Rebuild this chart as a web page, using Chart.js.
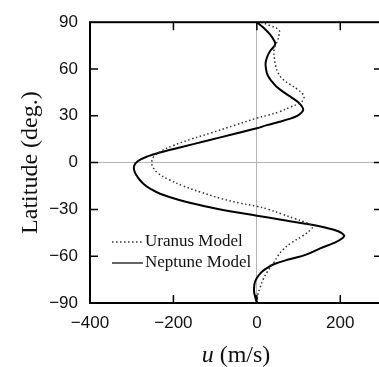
<!DOCTYPE html>
<html>
<head>
<meta charset="utf-8">
<script src="https://cdn.jsdelivr.net/npm/chart.js@4.4.1/dist/chart.umd.min.js"></script>
<style>
  html, body { margin: 0; padding: 0; background: #fff; overflow: hidden; }
  #wrap { width: 390px; height: 367px; }
</style>
</head>
<body>
<div id="wrap"><canvas id="windChart" width="390" height="367"></canvas></div>
<script>
// Zonal wind profiles: u (m/s) against latitude (deg.)
const uranusLat = [90, 88, 85, 82, 78.5, 75, 72, 67, 62, 57, 53.5, 50, 47, 44, 42, 40, 38, 35.5, 32.5, 30.5, 28.5, 24, 19, 15, 11, 7, 3.5, 0,
                   -3, -7, -11, -15, -19, -23, -26, -28, -30, -33, -36, -38, -40, -41.5, -43, -47, -51.5, -56, -60, -64, -70, -75, -80, -85, -90];
const uranusU   = [10, 30, 53, 53, 50, 44, 41, 42, 45, 52, 62, 80, 97, 110, 113, 111, 101, 80, 53, 28, 0, -52, -110, -158, -200, -232, -248, -252,
                   -249, -236, -210, -176, -134, -86, -40, 0, 28, 60, 92, 113, 130, 133, 129, 110, 82, 62, 50, 41, 25, 15, 8, 2, 0];

const neptuneLat = [90, 86, 82, 78, 76, 74, 72, 68, 64, 60, 56, 52, 49, 45, 42, 39, 36, 34, 32, 30, 28, 26, 24, 22, 18, 14, 10, 7, 4, 1,
                    -2, -5, -8, -11, -14, -17, -20, -24, -28, -31, -34, -36.5, -39, -41.5, -44, -46.5, -48.5, -51.5, -55, -59, -62, -65, -68, -70.5, -74, -77, -80, -83, -86, -90];
const neptuneU   = [0, 18, 32, 42, 44, 40, 33, 25, 21, 22, 26, 36, 46, 65, 82, 98, 108, 111, 107, 97, 78, 52, 24, 0, -60, -120, -180, -225, -262, -285,
                    -294, -294, -289, -281, -270, -254, -232, -186, -125, -68, 0, 55, 113, 161, 195, 209, 205, 185, 152, 118, 78, 42, 22, 10, 0, -5, -6.5, -6.5, -4, 0];

const xTicks = [-400, -200, 0, 200];
const yTicks = [-90, -60, -30, 0, 30, 60, 90];
const seriesNames = ['Uranus Model', 'Neptune Model'];

const xMin = -400, xMax = 300;
const yMin = -90, yMax = 90;

const toPoints = (xs, ys) => xs.map((v, i) => ({ x: v, y: ys[i] }));
const minus = v => String(v).replace('-', '\u2212');

// frame round the plot area with inward-pointing ticks on all four sides
const frameTicks = {
  id: 'frameTicks',
  afterDatasetsDraw(chart) {
    const { ctx, chartArea: a, scales: { x, y } } = chart;
    const len = 8;
    ctx.save();
    ctx.strokeStyle = '#000';
    ctx.lineWidth = 1.5;
    ctx.beginPath();
    xTicks.forEach(v => {
      if (v <= xMin || v >= xMax) return;
      const px = x.getPixelForValue(v);
      ctx.moveTo(px, a.top); ctx.lineTo(px, a.top + len);
      ctx.moveTo(px, a.bottom); ctx.lineTo(px, a.bottom - len);
    });
    yTicks.forEach(v => {
      if (v <= yMin || v >= yMax) return;
      const py = y.getPixelForValue(v);
      ctx.moveTo(a.left, py); ctx.lineTo(a.left + len, py);
      ctx.moveTo(a.right, py); ctx.lineTo(a.right - len, py);
    });
    ctx.stroke();
    ctx.lineWidth = 2;
    ctx.strokeRect(a.left, a.top, a.right - a.left, a.bottom - a.top);
    ctx.restore();
  }
};

// legend in the lower-left corner, plus the x title with an italic "u"
const labels = {
  id: 'labels',
  afterDraw(chart) {
    const { ctx, chartArea: a } = chart;
    ctx.save();
    ctx.fillStyle = '#111';
    ctx.textBaseline = 'middle';
    ctx.font = '17px "Liberation Serif", serif';
    chart.data.datasets.forEach((ds, i) => {
      const yy = 242 + i * 21;
      ctx.strokeStyle = ds.borderColor;
      ctx.lineWidth = ds.borderWidth > 1.5 ? 1.2 : 1.5;
      ctx.setLineDash(ds.borderDash || []);
      ctx.beginPath();
      ctx.moveTo(112, yy); ctx.lineTo(143, yy);
      ctx.stroke();
      ctx.setLineDash([]);
      ctx.fillText(seriesNames[i], 145, yy);
    });

    const italic = 'italic 24px "Liberation Serif", serif';
    const upright = '24px "Liberation Serif", serif';
    ctx.font = italic;
    const w1 = ctx.measureText('u').width;
    ctx.font = upright;
    const w2 = ctx.measureText(' (m/s)').width;
    const cx = (a.left + a.right) / 2;
    let tx = cx - (w1 + w2) / 2;
    ctx.textBaseline = 'alphabetic';
    ctx.font = italic;
    ctx.fillText('u', tx, 362);
    ctx.font = upright;
    ctx.fillText(' (m/s)', tx + w1, 362);
    ctx.restore();
  }
};

new Chart(document.getElementById('windChart'), {
  type: 'scatter',
  data: {
    datasets: [
      {
        label: seriesNames[0],
        data: toPoints(uranusU, uranusLat),
        showLine: true,
        borderColor: '#333',
        borderWidth: 1.5,
        borderDash: [1.5, 2.5],
        pointRadius: 0,
        tension: 0.4,
        fill: false,
      },
      {
        label: seriesNames[1],
        data: toPoints(neptuneU, neptuneLat),
        showLine: true,
        borderColor: '#000',
        borderWidth: 2,
        pointRadius: 0,
        tension: 0.4,
        fill: false,
      },
    ],
  },
  options: {
    responsive: false,
    animation: false,
    layout: { padding: { top: 15, right: 8, left: 0, bottom: 0 } },
    plugins: {
      legend: { display: false },
      tooltip: { enabled: false },
    },
    scales: {
      x: {
        type: 'linear',
        min: xMin,
        max: xMax,
        afterBuildTicks: s => { s.ticks = xTicks.map(v => ({ value: v })); },
        afterFit: s => { s.height = 64; },
        ticks: {
          color: '#111',
          padding: 10,
          font: { family: '"Liberation Sans", Arial, sans-serif', size: 17 },
          callback: v => minus(v),
        },
        grid: {
          drawTicks: false,
          color: c => (c.tick && c.tick.value === 0 ? '#b5b5b5' : 'rgba(0,0,0,0)'),
          lineWidth: 1,
        },
        border: { display: false },
        title: { display: false },
      },
      y: {
        type: 'linear',
        min: yMin,
        max: yMax,
        afterBuildTicks: s => { s.ticks = yTicks.map(v => ({ value: v })); },
        afterFit: s => { s.width = 90; },
        ticks: {
          color: '#111',
          padding: 12,
          font: { family: '"Liberation Sans", Arial, sans-serif', size: 17 },
          callback: v => minus(v),
        },
        grid: {
          drawTicks: false,
          color: c => (c.tick && c.tick.value === 0 ? '#b5b5b5' : 'rgba(0,0,0,0)'),
          lineWidth: 1,
        },
        border: { display: false },
        title: {
          display: true,
          text: 'Latitude (deg.)',
          color: '#111',
          font: { family: '"Liberation Serif", serif', size: 24 },
          padding: { top: 16, bottom: 0 },
        },
      },
    },
  },
  plugins: [frameTicks, labels],
});
</script>
</body>
</html>
